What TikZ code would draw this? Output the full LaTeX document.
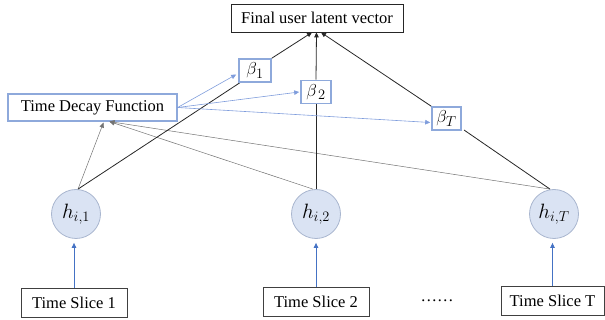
\documentclass[tikz,border=0pt]{standalone}
\usepackage{fontspec}
\setmainfont{Liberation Serif}
\usetikzlibrary{arrows.meta,calc}
\definecolor{bluebox}{HTML}{8EA9DB}
\definecolor{bluearr}{HTML}{4472C4}
\definecolor{bluethin}{HTML}{7F9DDC}
\definecolor{circfill}{HTML}{DAE3F3}
\definecolor{circdraw}{HTML}{A9B6CF}
\tikzset{
  every node/.style={font=\fontsize{16.5}{19}\selectfont, inner sep=0pt},
  finalbox/.style={draw=black!85, line width=0.8pt, minimum width=172pt, minimum height=28pt},
  betabox/.style={draw=bluebox, line width=1.6pt, fill=white, minimum width=30pt, minimum height=23pt, font=\fontsize{19}{21}\selectfont},
  tdfbox/.style={draw=bluebox, line width=1.2pt, fill=white, minimum width=169pt, minimum height=27pt},
  hnode/.style={circle, fill=circfill, draw=circdraw, line width=0.8pt, minimum size=49pt, font=\fontsize{20}{22}\selectfont},
  slicebox/.style={draw=black!75, line width=0.7pt, minimum width=106pt, minimum height=29pt},
  tip/.style={-{Triangle[length=5pt,width=4.5pt]}},
  mainline/.style={draw=black!85, line width=0.8pt},
  grayline/.style={draw=black!55, line width=0.5pt},
  blueline/.style={draw=bluethin, line width=0.6pt},
  uparrow/.style={draw=bluearr, line width=0.8pt, -{Triangle[length=5pt,width=4.5pt]}}
}
\begin{document}
\begin{tikzpicture}[x=1pt,y=-1pt]
\useasboundingbox (0,0) rectangle (605,320);
% nodes
\node[finalbox] (final) at (317,18) {Final user latent vector};
\node[tdfbox] (tdf) at (92.5,107.5) {Time Decay Function};
\node[hnode] (h1) at (76,214) {$h_{i,1}$};
\node[hnode] (h2) at (316,214) {$h_{i,2}$};
\node[hnode] (hT) at (554,214) {$h_{i,T}$};
\node[slicebox] (s1) at (74,302.5) {Time Slice 1};
\node[slicebox] (s2) at (316,302) {Time Slice 2};
\node[slicebox, minimum width=103pt] (sT) at (552.5,301) {Time Slice T};
\node (dots) at (437,301) {……};
% arrow target points
\coordinate (f1) at ($(final.south)+(-5,0)$);
\coordinate (f2) at ($(final.south)+(-0.5,0)$);
\coordinate (fT) at ($(final.south)+(4,0)$);
\coordinate (td1) at ($(tdf.south)+(11,1)$);
\coordinate (td2) at ($(tdf.south)+(17,0)$);
\coordinate (h1t) at ($(h1.north)+(2,0)$);
\coordinate (h2t) at ($(h2.north)+(-3,0)$);
\coordinate (hTt) at ($(hT.north)+(-4,0)$);
% gray lines to TDF
\draw[grayline, tip] (h1t) -- (td1);
\draw[grayline, tip] (h2t) -- (td2);
\draw[grayline, tip] (hTt) -- (td2);
% black lines h -> beta
\draw[mainline] (h1t) -- (241,82);
\draw[mainline] (h2.north) -- (316,104);
\draw[mainline] (hTt) -- (464,130);
% beta boxes
\node[betabox, minimum width=32pt] (b1) at (255,70.5) {$\beta_1$};
\node[betabox] (b2) at (316,92) {$\beta_{\,2}$};
\node[betabox, minimum width=29pt] (bT) at (446.5,118.5) {$\beta_T$};
% beta -> final
\draw[mainline, tip] (b1.north east) -- (f1);
\draw[mainline, tip] (b2.north) -- (f2);
\draw[mainline, tip] (bT.north west) -- (fT);
% TDF -> beta
\draw[blueline, tip] (tdf.east) -- ($(b1.west)+(-2,4)$);
\draw[blueline, tip] (tdf.east) -- ($(b2.west)+(-1,0)$);
\draw[blueline, tip] (tdf.east) -- ($(bT.west)+(-1,4)$);
% slices -> h
\draw[uparrow, shorten >=4pt] (s1.north) -- (s1.north |- h1.south);
\draw[uparrow, shorten >=4pt] (s2.north) -- (s2.north |- h2.south);
\draw[uparrow, shorten >=4pt] (sT.north) -- (sT.north |- hT.south);
\end{tikzpicture}
\end{document}
